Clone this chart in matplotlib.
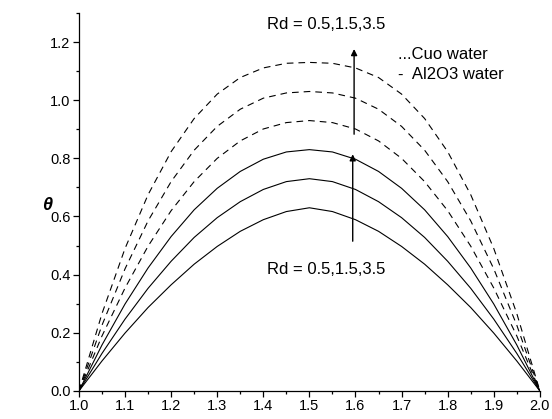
"""
Temperature profiles theta vs r for Cuo-water and Al2O3-water at three Rd values.
"""

import matplotlib
matplotlib.use("Agg")
import matplotlib.pyplot as plt
from matplotlib.ticker import MultipleLocator

plt.rcParams["font.family"] = ["Liberation Sans", "DejaVu Sans"]

r = [1.00, 1.05, 1.10, 1.15, 1.20, 1.25, 1.30, 1.35, 1.40, 1.45, 1.50,
     1.55, 1.60, 1.65, 1.70, 1.75, 1.80, 1.85, 1.90, 1.95, 2.00]

# Al2O3-water (solid), Rd = 0.5, 1.5, 3.5
al2o3_rd05 = [0.0, 0.103, 0.199, 0.287, 0.365, 0.436, 0.497, 0.549, 0.589, 0.617, 0.630,
              0.617, 0.589, 0.549, 0.497, 0.436, 0.365, 0.287, 0.199, 0.103, 0.0]
al2o3_rd15 = [0.0, 0.129, 0.247, 0.353, 0.446, 0.528, 0.596, 0.651, 0.693, 0.720, 0.730,
              0.720, 0.693, 0.651, 0.596, 0.528, 0.446, 0.353, 0.247, 0.129, 0.0]
al2o3_rd35 = [0.0, 0.158, 0.299, 0.423, 0.531, 0.623, 0.697, 0.755, 0.797, 0.822, 0.830,
              0.822, 0.797, 0.755, 0.697, 0.623, 0.531, 0.423, 0.299, 0.158, 0.0]

# Cuo-water (dashed), Rd = 0.5, 1.5, 3.5
cuo_rd05 = [0.0, 0.189, 0.354, 0.498, 0.620, 0.720, 0.800, 0.860, 0.901, 0.923, 0.930,
            0.923, 0.901, 0.860, 0.800, 0.720, 0.620, 0.498, 0.354, 0.189, 0.0]
cuo_rd15 = [0.0, 0.226, 0.420, 0.585, 0.720, 0.828, 0.910, 0.969, 1.007, 1.025, 1.030,
            1.025, 1.007, 0.969, 0.910, 0.828, 0.720, 0.585, 0.420, 0.226, 0.0]
cuo_rd35 = [0.0, 0.266, 0.490, 0.675, 0.823, 0.937, 1.021, 1.078, 1.111, 1.127, 1.130,
            1.127, 1.111, 1.078, 1.021, 0.937, 0.823, 0.675, 0.490, 0.266, 0.0]

fig = plt.figure(figsize=(5.52, 4.19), dpi=100)
ax = fig.add_axes([0.143, 0.067, 0.835, 0.902])

for ys in (al2o3_rd05, al2o3_rd15, al2o3_rd35):
    ax.plot(r, ys, color="black", lw=0.8)
for ys in (cuo_rd05, cuo_rd15, cuo_rd35):
    ax.plot(r, ys, color="black", lw=0.8, linestyle=(0, (6, 4.5)))

ax.set_xlim(1.0, 2.0)
ax.set_ylim(0.0, 1.3)
ax.xaxis.set_major_locator(MultipleLocator(0.1))
ax.xaxis.set_minor_locator(MultipleLocator(0.05))
ax.yaxis.set_major_locator(MultipleLocator(0.2))
ax.yaxis.set_minor_locator(MultipleLocator(0.1))
ax.xaxis.set_major_formatter(plt.FormatStrFormatter("%.1f"))
ax.yaxis.set_major_formatter(plt.FormatStrFormatter("%.1f"))
ax.tick_params(which="major", direction="out", length=4, width=0.9, labelsize=10.5, pad=2)
ax.tick_params(which="minor", direction="out", length=2.5, width=0.9)

for side in ("top", "right"):
    ax.spines[side].set_visible(False)
for side in ("left", "bottom"):
    ax.spines[side].set_linewidth(0.9)

ax.set_ylabel("θ", rotation=0, fontsize=13, fontweight="bold", style="italic")
ax.yaxis.set_label_coords(-0.069, 0.467)

# Rd annotations and arrows
ax.text(1.536, 1.26, "Rd = 0.5,1.5,3.5", fontsize=12, ha="center", va="center")
ax.text(1.536, 0.417, "Rd = 0.5,1.5,3.5", fontsize=12, ha="center", va="center")
arrow = dict(arrowstyle="-|>", color="black", lw=1.0, mutation_scale=9,
             shrinkA=0, shrinkB=0)
ax.annotate("", xy=(1.597, 1.176), xytext=(1.597, 0.883), arrowprops=arrow)
ax.annotate("", xy=(1.594, 0.814), xytext=(1.594, 0.515), arrowprops=arrow)

ax.text(1.692, 1.141, "...Cuo water", fontsize=12, ha="left", va="baseline")
ax.text(1.692, 1.072, "-  Al2O3 water", fontsize=12, ha="left", va="baseline")

fig.savefig("out.png", dpi=100)
